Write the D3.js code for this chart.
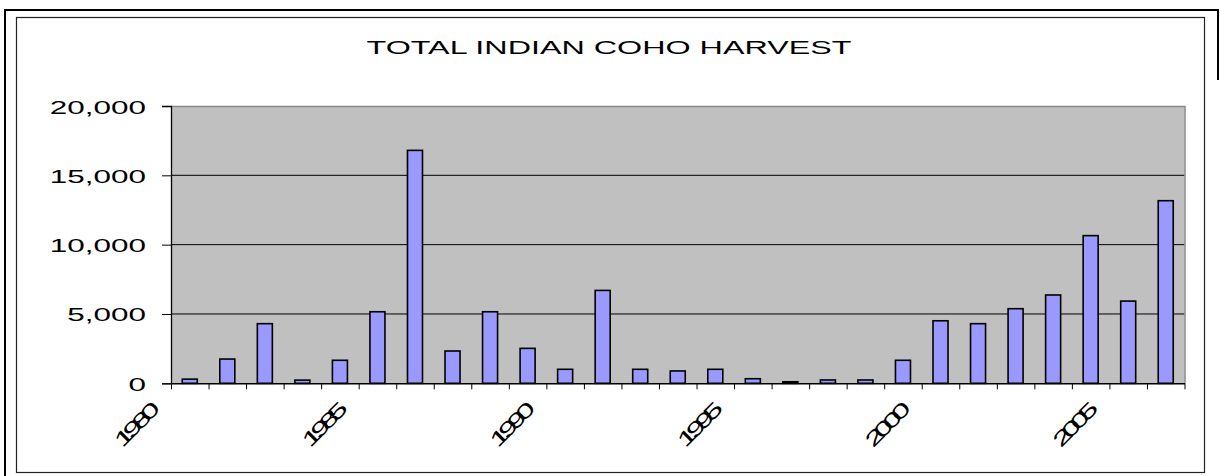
<!DOCTYPE html>
<html>
<head>
<meta charset="utf-8">
<script src="https://cdn.jsdelivr.net/npm/d3@7"></script>
<style>
  html, body { margin: 0; padding: 0; background: #fff; }
  svg { display: block; }
  text { font-family: "Liberation Sans", Arial, sans-serif; fill: #000; }
</style>
</head>
<body>
<svg id="chart" width="1220" height="476"></svg>
<script>
// Total Indian coho harvest by year
const years = [1980, 1981, 1982, 1983, 1984, 1985, 1986, 1987, 1988, 1989,
               1990, 1991, 1992, 1993, 1994, 1995, 1996, 1997, 1998, 1999,
               2000, 2001, 2002, 2003, 2004, 2005, 2006];
const harvest = [300, 1750, 4300, 230, 1660, 5160, 16800, 2330, 5160, 2520,
                 1010, 6700, 1010, 890, 1010, 330, 110, 240, 240, 1660,
                 4510, 4300, 5380, 6370, 10650, 5930, 13170];
const yTicks = [0, 5000, 10000, 15000, 20000];
const xTickLabels = ["1980", "1985", "1990", "1995", "2000", "2005"];
const title = "TOTAL INDIAN COHO HARVEST";

const svg = d3.select("#chart");
const stretch = 1.7; // text is drawn wide

const plot = { left: 171, right: 1184.5, top: 106, bottom: 383.3 };

// Frames around the chart
svg.append("path")
  .attr("d", "M5,477 L5,10 L1218,10 L1218,80")
  .attr("fill", "none").attr("stroke", "#000").attr("stroke-width", 2);
svg.append("rect")
  .attr("x", 16.5).attr("y", 17.5).attr("width", 1188).attr("height", 455)
  .attr("fill", "#fff").attr("stroke", "#222").attr("stroke-width", 1.2);

// Scales
const x = d3.scaleBand().domain(years)
  .range([plot.left, plot.right]).paddingInner(0.6).paddingOuter(0.3);
const xEdge = d3.scaleLinear().domain([0, years.length])
  .range([plot.left, plot.right]);
const y = d3.scaleLinear().domain([0, 20000]).range([plot.bottom, plot.top]);

// Plot background
svg.append("rect")
  .attr("x", plot.left).attr("y", plot.top)
  .attr("width", plot.right - plot.left).attr("height", plot.bottom - plot.top)
  .attr("fill", "#c0c0c0");

// Gridlines
svg.append("g").selectAll("line")
  .data(yTicks.filter(d => d > 0 && d < 20000))
  .join("line")
  .attr("x1", plot.left).attr("x2", plot.right)
  .attr("y1", d => y(d)).attr("y2", d => y(d))
  .attr("stroke", "#000").attr("stroke-width", 1);

// Top and right edges of the plot area
svg.append("path")
  .attr("d", `M${plot.left},${plot.top + 0.5} H${plot.right + 0.5} V${plot.bottom}`)
  .attr("fill", "none").attr("stroke", "#888").attr("stroke-width", 1.5);

// Bars
svg.append("g").selectAll("rect")
  .data(years.map((yr, i) => ({ yr, v: harvest[i] })))
  .join("rect")
  .attr("x", d => x(d.yr))
  .attr("y", d => y(d.v))
  .attr("width", x.bandwidth())
  .attr("height", d => y(0) - y(d.v))
  .attr("fill", "#9999ff")
  .attr("stroke", "#000")
  .attr("stroke-width", 1.6);

// Y axis
const yAxis = svg.append("g")
  .attr("transform", `translate(${plot.left},0)`)
  .call(d3.axisLeft(y).tickValues(yTicks).tickFormat(d3.format(",")).tickSize(9).tickPadding(0));
yAxis.select(".domain").attr("stroke", "#000").attr("stroke-width", 1.3);
yAxis.selectAll(".tick line").attr("stroke", "#000").attr("stroke-width", 1);
yAxis.selectAll(".tick text")
  .attr("x", null).attr("dy", null)
  .attr("transform", `translate(-25,7) scale(${stretch},1)`)
  .attr("text-anchor", "end")
  .style("font-size", "18.5px");

// X axis: tick marks at category boundaries, labels every five years
const xAxis = svg.append("g")
  .attr("transform", `translate(0,${plot.bottom})`)
  .call(d3.axisBottom(xEdge)
    .tickValues(d3.range(years.length + 1))
    .tickFormat(i => (i % 5 === 0 ? xTickLabels[i / 5] || "" : ""))
    .tickSize(6).tickSizeOuter(0));
xAxis.select(".domain").attr("stroke", "#000").attr("stroke-width", 1.5);
xAxis.selectAll(".tick line").attr("stroke", "#000").attr("stroke-width", 1);
xAxis.selectAll(".tick text")
  .attr("y", null).attr("dy", null)
  .attr("text-anchor", "end")
  .attr("transform", `translate(-15,31) rotate(-45) scale(${stretch},1)`)
  .style("font-size", "20px")
  .style("letter-spacing", "-4px");

// Title
svg.append("text")
  .attr("transform", `translate(609,54) scale(${stretch},1)`)
  .attr("text-anchor", "middle")
  .style("font-size", "19px")
  .text(title);
</script>
</body>
</html>
